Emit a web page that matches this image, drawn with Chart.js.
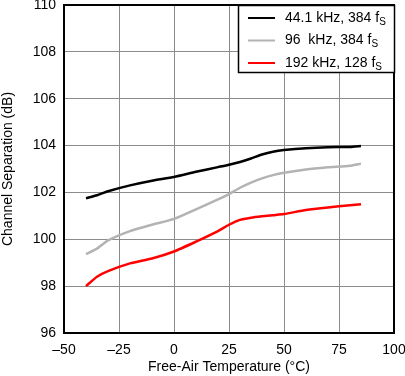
<!DOCTYPE html>
<html>
<head>
<meta charset="utf-8">
<script src="https://cdn.jsdelivr.net/npm/chart.js@4/dist/chart.umd.min.js"></script>
<style>
  html, body { margin: 0; padding: 0; background: #fff; }
  #wrap { width: 405px; height: 376px; }
</style>
</head>
<body>
<div id="wrap"><canvas id="sepChart" width="405" height="376"></canvas></div>
<script>
const TEMPS = [-40, -35, -30, -20, -10, 0, 10, 20, 25, 30, 35, 40, 45, 50, 60, 70, 80, 85];

const SEP_44K = [101.75, 101.88, 102.05, 102.3, 102.5, 102.66, 102.88, 103.08, 103.18, 103.3, 103.45, 103.62, 103.74, 103.81, 103.89, 103.93, 103.94, 103.98];
const SEP_96K = [99.37, 99.6, 99.95, 100.35, 100.62, 100.87, 101.28, 101.7, 101.93, 102.2, 102.42, 102.6, 102.74, 102.84, 102.98, 103.07, 103.14, 103.23];
const SEP_192K = [98.0, 98.4, 98.64, 98.97, 99.18, 99.48, 99.9, 100.35, 100.62, 100.83, 100.92, 100.98, 101.03, 101.08, 101.25, 101.36, 101.45, 101.5];

const SERIES_LABELS = ["44.1 kHz, 384 f", "96  kHz, 384 f", "192 kHz, 128 f"];
const SERIES_SUB = "S";
const X_TICKS = [-50, -25, 0, 25, 50, 75, 100];
const Y_TICKS = [96, 98, 100, 102, 104, 106, 108, 110];

const FONT = "'Liberation Sans', Arial, sans-serif";

function toPoints(ys) {
  return TEMPS.map((t, i) => ({ x: t, y: ys[i] }));
}

// legend box drawn inside the top-right corner of the plot
const boxLegend = {
  id: "boxLegend",
  afterDraw(chart) {
    const { ctx, chartArea } = chart;
    const w = 156, h = 67;
    const x0 = chartArea.right - w, y0 = chartArea.top;
    ctx.save();
    ctx.fillStyle = "#fff";
    ctx.fillRect(x0, y0, w, h);
    ctx.strokeStyle = "#000";
    ctx.lineWidth = 1.5;
    ctx.strokeRect(x0 + 0.5, y0 + 0.5, w, h);
    chart.data.datasets.forEach((ds, i) => {
      const y = y0 + 13 + i * 22.5;
      ctx.strokeStyle = ds.borderColor;
      ctx.lineWidth = 2;
      ctx.beginPath();
      ctx.moveTo(x0 + 10, y);
      ctx.lineTo(x0 + 37, y);
      ctx.stroke();
      ctx.fillStyle = "#000";
      ctx.font = "14px " + FONT;
      ctx.textBaseline = "middle";
      ctx.fillText(ds.label, x0 + 47, y);
      const tw = ctx.measureText(ds.label).width;
      ctx.font = "10px " + FONT;
      ctx.fillText(SERIES_SUB, x0 + 47 + tw, y + 4);
    });
    ctx.restore();
  },
};

// plot frame
const frame = {
  id: "frame",
  afterDatasetsDraw(chart) {
    const { ctx, chartArea } = chart;
    ctx.save();
    ctx.strokeStyle = "#000";
    ctx.lineWidth = 2;
    ctx.strokeRect(chartArea.left, chartArea.top, chartArea.right - chartArea.left, chartArea.bottom - chartArea.top);
    ctx.restore();
  },
};

const ctx = document.getElementById("sepChart").getContext("2d");

new Chart(ctx, {
  type: "line",
  data: {
    datasets: [
      { label: SERIES_LABELS[0], data: toPoints(SEP_44K), borderColor: "#000000" },
      { label: SERIES_LABELS[1], data: toPoints(SEP_96K), borderColor: "#b3b3b3" },
      { label: SERIES_LABELS[2], data: toPoints(SEP_192K), borderColor: "#ff0000" },
    ].map((d) => ({ ...d, borderWidth: 2.5, pointRadius: 0, tension: 0.2, fill: false })),
  },
  options: {
    animation: false,
    responsive: false,
    layout: { padding: { top: 5, right: 0, left: 0, bottom: 0 } },
    plugins: {
      legend: { display: false },
      tooltip: { enabled: false },
    },
    scales: {
      x: {
        type: "linear",
        min: -50,
        max: 100,
        afterBuildTicks: (scale) => { scale.ticks = X_TICKS.map((v) => ({ value: v })); },
        afterFit: (scale) => {
          scale.height = 43;
          scale.paddingRight = 11;
          scale.paddingLeft = 0;
        },
        grid: { color: "#8c8c8c", lineWidth: 1, drawTicks: false },
        border: { display: false },
        ticks: {
          color: "#000",
          padding: 9,
          maxRotation: 0,
          font: { family: FONT, size: 14 },
          callback: (v) => (v < 0 ? "\u2013" + Math.abs(v) : String(v)),
        },
        title: {
          display: true,
          text: "Free-Air Temperature (\u00b0C)",
          color: "#000",
          padding: { top: 0, bottom: 0 },
          font: { family: FONT, size: 14 },
        },
      },
      y: {
        min: 96,
        max: 110,
        afterBuildTicks: (scale) => { scale.ticks = Y_TICKS.map((v) => ({ value: v })); },
        afterFit: (scale) => {
          scale.width = 64;
          scale.paddingTop = 0;
          scale.paddingBottom = 0;
        },
        grid: { color: "#8c8c8c", lineWidth: 1, drawTicks: false },
        border: { display: false },
        ticks: {
          color: "#000",
          padding: 8,
          font: { family: FONT, size: 14 },
        },
        title: {
          display: true,
          text: "Channel Separation (dB)",
          color: "#000",
          padding: { top: 0, bottom: 0 },
          font: { family: FONT, size: 14 },
        },
      },
    },
  },
  plugins: [frame, boxLegend],
});
</script>
</body>
</html>
